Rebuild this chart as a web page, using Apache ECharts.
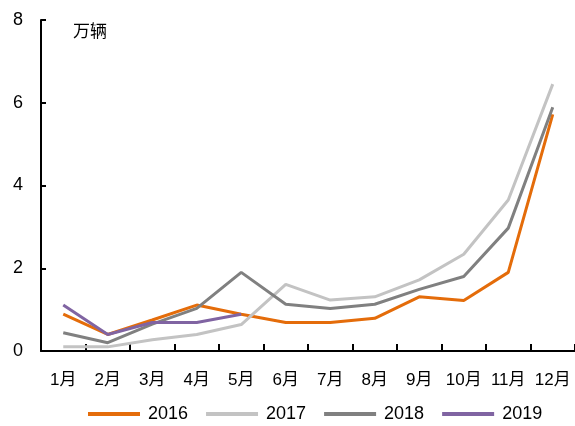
<!DOCTYPE html>
<html>
<head>
<meta charset="utf-8">
<script src="https://cdn.jsdelivr.net/npm/echarts@6/dist/echarts.min.js"></script>
<style>
  html, body { margin: 0; padding: 0; background: #fff; }
  #chart { width: 575px; height: 426px; }
</style>
</head>
<body>
<div id="chart"></div>
<script>
// Monthly sales, 10k vehicles
const months = ['1月', '2月', '3月', '4月', '5月', '6月', '7月', '8月', '9月', '10月', '11月', '12月'];
const sales2016 = [0.89, 0.40, 0.75, 1.11, 0.89, 0.69, 0.69, 0.79, 1.31, 1.22, 1.90, 5.72];
const sales2017 = [0.10, 0.10, 0.27, 0.40, 0.64, 1.61, 1.23, 1.31, 1.72, 2.34, 3.65, 6.45];
const sales2018 = [0.44, 0.20, 0.65, 1.03, 1.90, 1.13, 1.03, 1.13, 1.49, 1.80, 2.97, 5.89];
const sales2019 = [1.11, 0.40, 0.69, 0.69, 0.89];
const yTicks = [0, 2, 4, 6, 8];

const latinFont = '"Liberation Sans", Arial, sans-serif';
const cjkFont = '"Liberation Sans", "Noto Sans CJK SC", sans-serif';

const chart = echarts.init(document.getElementById('chart'), null, { renderer: 'canvas' });

function lineSeries(name, data, color) {
  return {
    name: name,
    type: 'line',
    data: data,
    symbol: 'none',
    smooth: false,
    lineStyle: { color: color, width: 3 },
    itemStyle: { color: color }
  };
}

chart.setOption({
  animation: false,
  backgroundColor: '#ffffff',
  grid: { left: 41, right: -1, top: 20, bottom: 75, containLabel: false },
  graphic: [{
    type: 'text',
    left: 73,
    top: 22,
    style: { text: '万辆', font: '17px "Noto Sans CJK SC", sans-serif', fill: '#000', letterSpacing: 4 }
  }],
  legend: {
    top: 405,
    left: 88,
    padding: 0,
    itemWidth: 52,
    itemHeight: 4,
    itemGap: 18,
    icon: 'rect',
    textStyle: { fontFamily: latinFont, fontSize: 18, color: '#000', padding: [0, 0, 0, 3] },
    data: ['2016', '2017', '2018', '2019']
  },
  xAxis: {
    type: 'category',
    data: months,
    boundaryGap: true,
    axisLine: { lineStyle: { color: '#000', width: 2 } },
    axisTick: { show: true, inside: true, interval: 0, length: 7, lineStyle: { color: '#000', width: 2 } },
    axisLabel: { color: '#000', fontFamily: cjkFont, fontSize: 17, margin: 21, interval: 0 }
  },
  yAxis: {
    type: 'value',
    min: 0,
    max: 8,
    interval: 2,
    splitLine: { show: false },
    axisLine: { show: true, lineStyle: { color: '#000', width: 2 } },
    axisTick: { show: true, inside: true, length: 5, lineStyle: { color: '#000', width: 2 } },
    axisLabel: {
      color: '#000', fontFamily: latinFont, fontSize: 18, margin: 18,
      formatter: function (v) { return yTicks.indexOf(v) >= 0 ? String(v) : ''; }
    }
  },
  series: [
    lineSeries('2016', sales2016, '#E46C0A'),
    lineSeries('2017', sales2017, '#C3C3C3'),
    lineSeries('2018', sales2018, '#808080'),
    lineSeries('2019', sales2019, '#8064A2')
  ]
});
</script>
</body>
</html>
